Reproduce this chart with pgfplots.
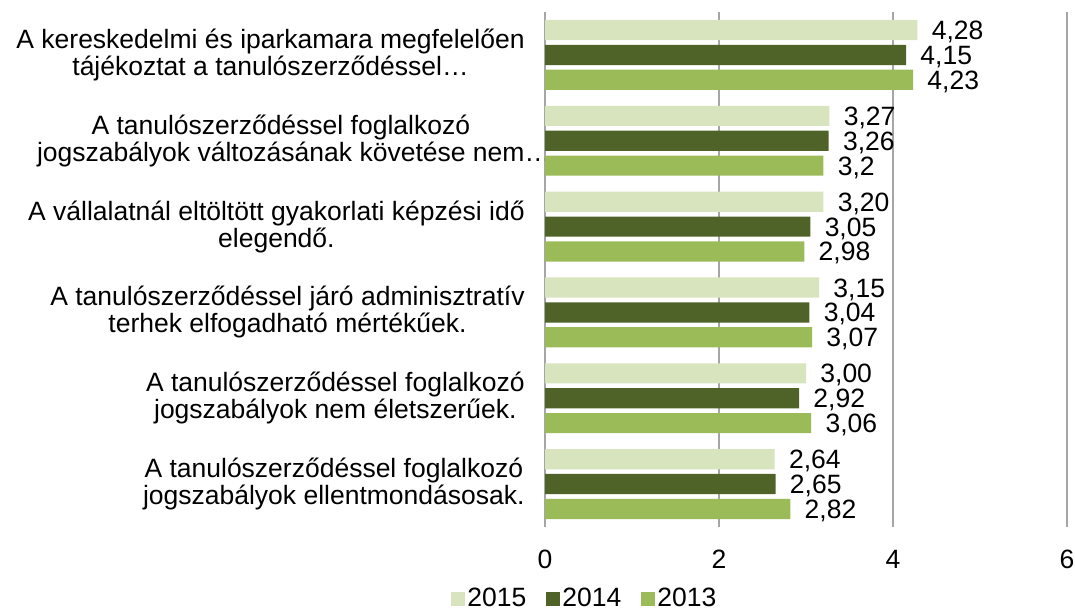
\documentclass[border=0pt]{standalone}
\usepackage{pgfplots}
\pgfplotsset{compat=1.18}
\usepackage{pgfplotstable}
\usepackage{fontspec}
\setmainfont{Liberation Sans}
\definecolor{c15}{HTML}{D7E4BD}
\definecolor{c14}{HTML}{4F6228}
\definecolor{c13}{HTML}{9BBB59}
\definecolor{gridc}{HTML}{A6A6A6}
\newcommand\chartfont{\fontsize{13.25pt}{11.25pt}\selectfont}

\pgfplotstableread{
y val lab
5 4.28 4,28
4 3.27 3,27
3 3.20 3,20
2 3.15 3,15
1 3.00 3,00
0 2.64 2,64
}\tabA
\pgfplotstableread{
y val lab
5 4.15 4,15
4 3.26 3,26
3 3.05 3,05
2 3.04 3,04
1 2.92 2,92
0 2.65 2,65
}\tabB
\pgfplotstableread{
y val lab
5 4.23 4,23
4 3.20 3,2
3 2.98 2,98
2 3.07 3,07
1 3.06 3,06
0 2.82 2,82
}\tabC

\begin{document}
\begin{tikzpicture}
\useasboundingbox (0,0) rectangle (537.5pt,305pt);
\begin{axis}[
  at={(272.5pt,41.5pt)}, anchor=south west,
  scale only axis, width=261pt, height=257.5pt,
  xmin=0, xmax=6, ymin=-0.5, ymax=5.5, enlargelimits=false,
  xtick={0,2,4,6}, ytick={0,1,2,3,4,5},
  yticklabels={
    {A tanulószerződéssel foglalkozó\\jogszabályok ellentmondásosak.},
    {A tanulószerződéssel foglalkozó\\jogszabályok nem életszerűek.},
    {A tanulószerződéssel járó adminisztratív\\terhek elfogadható mértékűek.},
    {A vállalatnál eltöltött gyakorlati képzési idő\\elegendő.},
    {A tanulószerződéssel foglalkozó\\jogszabályok változásának követése nem\rlap{…}},
    {A kereskedelmi és iparkamara megfelelően\\tájékoztat a tanulószerződéssel…}
  },
  xmajorgrids, ymajorgrids=false,
  major grid style={gridc, line width=0.6pt},
  axis line style={draw=none},
  major tick length=0pt,
  tick label style={font=\chartfont},
  xticklabel style={anchor=base, yshift=-21pt, inner sep=0pt},
  yticklabel style={align=center, anchor=east, inner sep=0pt, xshift=-10pt},
  /pgf/number format/assume math mode=true,
  xbar, bar width=0.235,
  clip=false,
  nodes near coords, point meta=explicit symbolic,
  nodes near coords style={font=\chartfont, anchor=base west, inner sep=0pt, xshift=7pt, yshift=-4.75pt, text=black},
  legend columns=3,
  legend style={at={(-0.18,-0.14)}, anchor=west, draw=none, fill=none, inner sep=0pt,
    font=\chartfont, nodes={inner sep=1pt},
    /tikz/every even column/.append style={column sep=9pt}},
  legend cell align=left,
]
\addplot[fill=c15, draw=none, bar shift=0.29,
  legend image code/.code={\fill[c15] (0pt,-3.5pt) rectangle (7pt,3.5pt);}]
  table[x=val, y=y, meta=lab]{\tabA};
\addlegendentry{2015}
\addplot[fill=c14, draw=none, bar shift=0,
  legend image code/.code={\fill[c14] (0pt,-3.5pt) rectangle (7pt,3.5pt);}]
  table[x=val, y=y, meta=lab]{\tabB};
\addlegendentry{2014}
\addplot[fill=c13, draw=none, bar shift=-0.29,
  legend image code/.code={\fill[c13] (0pt,-3.5pt) rectangle (7pt,3.5pt);}]
  table[x=val, y=y, meta=lab]{\tabC};
\addlegendentry{2013}
\end{axis}
\end{tikzpicture}
\end{document}
